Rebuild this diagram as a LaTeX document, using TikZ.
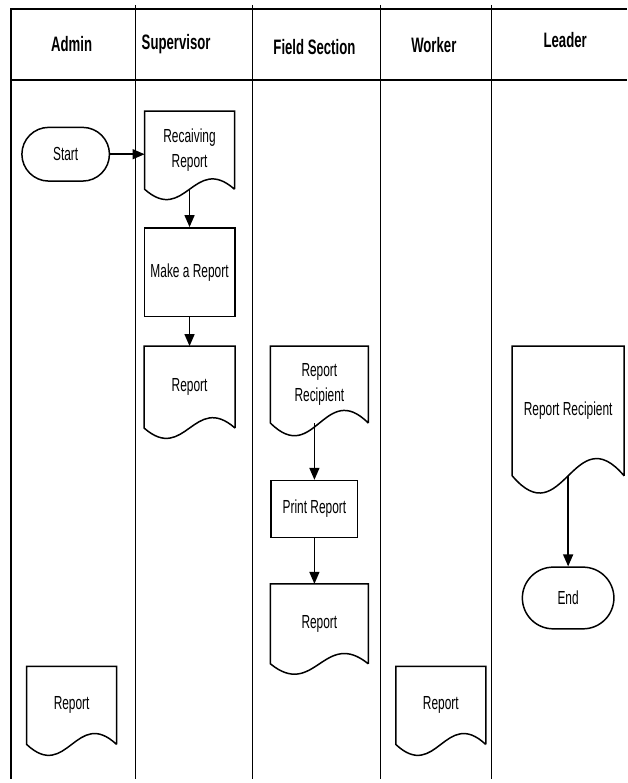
\documentclass[tikz,border=0pt]{standalone}
\usepackage{fontspec}
\setmainfont{Liberation Sans}
\newfontfamily\narrowfont[FakeStretch=0.63]{Liberation Sans}
\usetikzlibrary{arrows.meta,calc,shapes.misc}

\begin{document}
\begin{tikzpicture}[x=1pt, y=-1pt,
    lane/.style={line width=1.1pt},
    frame/.style={line width=2pt},
    head/.style={font=\narrowfont\bfseries\fontsize{21}{23}\selectfont},
    txt/.style={font=\narrowfont\fontsize{19}{25}\selectfont, align=center, inner sep=0pt},
    proc/.style={txt, draw, line width=1.5pt},
    term/.style={txt, draw, line width=1.5pt, rounded rectangle},
    doc/.style={txt, minimum width=90pt},
    outline/.style={line width=1.5pt, line join=miter},
    flow/.style={-{Triangle[length=12pt,width=10pt]}, line width=1.5pt} ]
    % --- Lanes ---
    \foreach \x in {136,254,382,494}
        \draw[lane] (\x,5) -- (\x,783);
    \draw[frame] (630,9) -- (11,9) -- (11,783);
    \draw[frame] (11,80) -- (630,80);

    \node[head] (hadmin) at (72,44) {Admin};
    \node[head] (hsuper) at (177,44) {Supervisor};
    \node[head] (hfield) at (316,47) {Field Section};
    \node[head] (hworker) at (436,45) {Worker};
    \node[head] (hleader) at (568,40) {Leader};

    % --- Admin ---
    \node[term, minimum width=88pt, minimum height=54pt] (start) at (66,155) {Start};
    \node[doc, minimum height=78pt] (repA) at (72,709) {Report};

    % --- Supervisor ---
    \node[doc, minimum height=78pt] (recv) at (190.5,151) {Recaiving\\Report};
    \node[proc, minimum width=91pt, minimum height=89pt] (make) at (190.5,273.5) {Make a Report};
    \node[doc, minimum width=91pt, minimum height=82pt] (repS) at (190.5,389) {Report};

    % --- Field Section ---
    \node[doc, minimum width=98pt, minimum height=77pt] (recF) at (321,386.5) {Report\\Recipient};
    \node[proc, minimum width=87pt, minimum height=57pt] (print) at (316,511.5) {Print Report};
    \node[doc, minimum width=98pt, minimum height=80pt] (repF) at (321,627) {Report};

    % --- Worker ---
    \node[doc, minimum height=78pt] (repW) at (443,709) {Report};

    % --- Leader ---
    \node[doc, minimum width=112pt, minimum height=130pt] (recL) at (571,413) {Report Recipient};
    \node[term, minimum width=92pt, minimum height=62pt] (end) at (571,601) {End};

    % document outlines (wavy bottom)
    \foreach \d/\c in {recv/36,repS/36,recF/44,repF/36,recL/60,repA/38,repW/38}
        \draw[outline] (\d.south east) -- (\d.north east) -- (\d.north west) -- (\d.south west)
            .. controls ($(\d.south west)!0.45!(\d.south east)+(0,\c)$)
            and ($(\d.south west)!0.55!(\d.south east)+(0,-\c)$) .. (\d.south east);

    \draw[flow] (start.east) -- (start.east -| recv.west);
    \draw[flow] (recv.south) -- (make.north);
    \draw[flow] (make) -- (repS);
    \draw[flow] (recF.south -| print) -- (print);
    \draw[flow] (print) -- (print |- repF.north);
    \draw[flow] (recL) -- (end);

    \useasboundingbox (0,0) rectangle (630,783);
\end{tikzpicture}
\end{document}
